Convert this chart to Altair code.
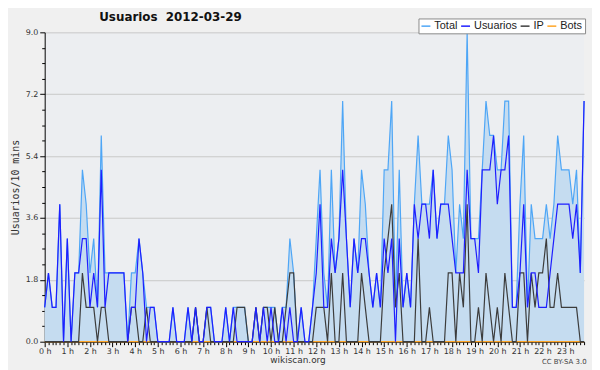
import altair as alt
import pandas as pd

# 10-minute slots of the day (0 = 00:00 ... 143 = 23:50)
slots = list(range(144))

total = [1, 2, 1, 1, 4, 0, 3, 0, 2, 2, 5, 4, 2, 3, 1, 6, 2, 2, 2, 2, 2, 2, 0, 2,
         2, 3, 2, 1, 1, 1, 0, 0, 0, 0, 1, 0, 0, 0, 1, 0, 1, 0, 0, 1, 1, 0, 0, 0,
         1, 0, 1, 1, 1, 1, 0, 0, 1, 0, 1, 1, 1, 1, 0, 1, 1, 3, 2, 0, 1, 0, 0, 1,
         3, 5, 2, 1, 5, 2, 3, 7, 3, 1, 3, 2, 5, 4, 2, 1, 2, 1, 5, 5, 7, 1, 5, 1,
         2, 1, 4, 6, 4, 4, 4, 5, 3, 4, 4, 6, 5, 2, 4, 3, 9, 3, 3, 3, 5, 7, 6, 6,
         5, 5, 7, 7, 1, 1, 4, 6, 1, 4, 3, 3, 3, 4, 3, 4, 6, 5, 5, 5, 4, 5, 2, 7]

usuarios = [1, 2, 1, 1, 4, 0, 3, 0, 2, 2, 3, 3, 1, 2, 1, 5, 1, 2, 2, 2, 2, 2, 0, 1,
            1, 3, 2, 0, 1, 1, 0, 0, 0, 0, 1, 0, 0, 0, 1, 0, 1, 0, 0, 1, 1, 0, 0, 0,
            1, 0, 1, 0, 0, 0, 0, 0, 1, 0, 1, 0, 1, 0, 0, 1, 0, 1, 0, 0, 1, 0, 0, 1,
            2, 4, 1, 1, 3, 2, 3, 5, 3, 1, 3, 2, 3, 3, 2, 1, 2, 1, 3, 2, 3, 0, 3, 1,
            2, 1, 4, 3, 4, 4, 3, 5, 3, 4, 4, 4, 3, 2, 2, 2, 5, 3, 3, 2, 5, 5, 5, 6,
            4, 5, 5, 6, 1, 1, 2, 4, 1, 2, 2, 1, 1, 1, 2, 3, 4, 4, 4, 4, 3, 4, 2, 7]

ip = [0, 0, 0, 0, 0, 0, 0, 0, 0, 0, 2, 1, 1, 1, 0, 1, 1, 0, 0, 0, 0, 0, 0, 1,
      1, 0, 0, 1, 0, 0, 0, 0, 0, 0, 0, 0, 0, 0, 0, 0, 1, 0, 0, 1, 0, 0, 0, 0,
      0, 0, 0, 1, 1, 1, 0, 0, 1, 0, 1, 1, 0, 1, 0, 0, 1, 2, 2, 0, 0, 0, 0, 0,
      1, 1, 1, 0, 2, 0, 0, 2, 0, 0, 0, 0, 2, 1, 0, 0, 0, 0, 2, 3, 4, 1, 2, 0,
      0, 0, 0, 3, 0, 0, 1, 0, 0, 0, 0, 2, 2, 0, 2, 1, 4, 0, 0, 1, 0, 2, 1, 0,
      1, 0, 2, 1, 0, 0, 2, 2, 0, 2, 1, 2, 2, 3, 1, 1, 2, 1, 1, 1, 1, 1, 0, 0]

bots = [0] * 144

series_names = ["Total", "Usuarios", "IP", "Bots"]
series_colors = ["#4ea6f6", "#1e1eff", "#3c3c3c", "#ffa526"]
y_ticks = [0.0, 0.45, 0.9, 1.35, 1.8, 2.25, 2.7, 3.15, 3.6, 4.05, 4.5, 4.95,
           5.4, 5.85, 6.3, 6.75, 7.2, 7.65, 8.1, 8.55, 9.0]

title_text = "Usuarios\u00a0\u00a02012-03-29"
licence_text = "CC BY-SA 3.0"

df = pd.DataFrame({
    "slot": slots * 4,
    "series": sum([[n] * 144 for n in series_names], []),
    "value": total + usuarios + ip + bots,
})

FONT = "DejaVu Sans"

x_enc = alt.X(
    "slot:Q",
    scale=alt.Scale(domain=[0, 143], nice=False, zero=False),
    axis=alt.Axis(
        values=slots,
        labelExpr="datum.value % 6 == 0 ? (datum.value / 6) + ' h' : ''",
        tickSize={"condition": {"test": "datum.value % 6 == 0", "value": 5}, "value": 3},
        grid=False,
        domainColor="#000000",
        tickColor="#000000",
        labelFont=FONT,
        labelFontSize=8,
        labelColor="#333333",
        labelPadding=1,
        labelOverlap=False,
        labelFlush=False,
        labelBound=False,
        title="wikiscan.org",
        titleFont=FONT,
        titleFontSize=9,
        titleFontWeight="normal",
        titleColor="#333333",
        titleX=255,
        titleY=18,
        titleAlign="center",
        titleBaseline="middle",
    ),
)

y_enc = alt.Y(
    "value:Q",
    scale=alt.Scale(domain=[0, 9], nice=False),
    axis=alt.Axis(
        values=y_ticks,
        labelExpr="round(datum.value / 0.45) % 4 == 0 ? format(datum.value, '.1f') : ''",
        tickSize={"condition": {"test": "round(datum.value / 0.45) % 4 == 0", "value": 5}, "value": 3},
        gridOpacity={"condition": {"test": "round(datum.value / 0.45) % 4 == 0", "value": 1}, "value": 0},
        grid=True,
        gridColor="#c8c8c8",
        domainColor="#000000",
        tickColor="#000000",
        labelFont=FONT,
        labelFontSize=8,
        labelColor="#333333",
        labelPadding=2,
        labelOverlap=False,
        labelFlush=False,
        title="Usuarios/10 mins",
        titleFont="DejaVu Sans Mono",
        titleFontSize=10,
        titleFontWeight="normal",
        titleColor="#333333",
        titlePadding=5,
    ),
)

legend = alt.Legend(
    title=None,
    orient="none",
    legendX=377,
    legendY=-14,
    direction="horizontal",
    symbolType="stroke",
    symbolSize=81,
    symbolStrokeWidth=1.5,
    labelFont="Liberation Sans",
    labelFontSize=11,
    labelColor="#222222",
    labelOffset=3,
    columnPadding=0,
    padding=2,
    fillColor="#ffffff",
    strokeColor="#8a8a8a",
)

color_enc = alt.Color(
    "series:N",
    scale=alt.Scale(domain=series_names, range=series_colors),
    legend=legend,
)

base = alt.Chart(df)

area = base.transform_filter(alt.datum.series == "Total").mark_area(
    color="#c5dcf0", interpolate="linear"
).encode(x=x_enc, y=y_enc)

def line_layer(name):
    return base.transform_filter(alt.datum.series == name).mark_line(
        strokeWidth=1.2, interpolate="linear"
    ).encode(x=x_enc, y=y_enc, color=color_enc)

title_layer = alt.Chart(pd.DataFrame({"t": [title_text]})).mark_text(
    font=FONT, fontSize=12, fontWeight="bold", color="#111111",
    align="left", baseline="middle"
).encode(text="t:N", x=alt.value(55), y=alt.value(-15))

licence_layer = alt.Chart(pd.DataFrame({"t": [licence_text]})).mark_text(
    font=FONT, fontSize=7, color="#444444", align="center", baseline="middle"
).encode(text="t:N", x=alt.value(524), y=alt.value(332))

chart = alt.layer(
    area,
    line_layer("Bots"),
    line_layer("Total"),
    line_layer("IP"),
    line_layer("Usuarios"),
    title_layer,
    licence_layer,
).properties(
    width=544,
    height=312,
    autosize=alt.AutoSizeParams(type="none"),
    padding={"left": 37, "top": 23, "right": 8, "bottom": 27},
    background="#f0f0f0",
).configure_view(
    fill="#eceef1",
    strokeWidth=0,
)

chart.save("out.html", embed_options={"renderer": "svg", "actions": False})
